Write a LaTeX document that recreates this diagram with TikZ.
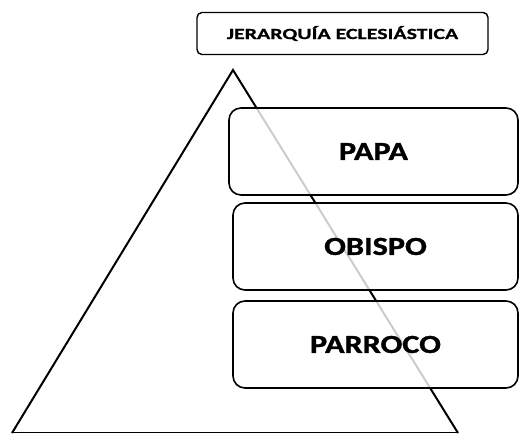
\documentclass[tikz,border=0pt]{standalone}
\usepackage{fontspec}
\setmainfont{Carlito}
\newfontfamily\rangofont[FakeStretch = 1.24, BoldFeatures = {FakeBold = 1.2}]{Carlito}
\newfontfamily\titulofont[FakeStretch = 1.41, BoldFeatures = {FakeBold = 0.8}]{Carlito}

\tikzset{
	rango/.style = {draw, line width = 1.6pt, rounded corners = 12pt, fill = white, fill opacity = 0.8, text opacity = 1, minimum width = 288pt, minimum height = 87pt, font = \rangofont\fontsize{26}{30}\selectfont\bfseries},
	titulo/.style = {draw, line width = 1.4pt, rounded corners = 5pt, fill = white, minimum width = 291pt, minimum height = 42pt, font = \titulofont\fontsize{15.5}{18}\selectfont\bfseries}
}

\begin{document}
\begin{tikzpicture}[x = 1pt, y = 1pt]
		\useasboundingbox (0, 0) rectangle (519, 435);
		\coordinate (apex) at (233, 365);
		\coordinate (bl) at (12, 2);
		\coordinate (br) at (458, 2);
		\draw[line width = 2pt] (bl) -- (apex) -- (br);
		\draw[line width = 1pt] (bl) -- (br);
		\node[titulo] (title) at (342.5, 401.5) {JERARQUÍA ECLESIÁSTICA};
		\node[rango, minimum width = 289pt] (papa) at (373.5, 283.5) {PAPA};
		\node[rango, minimum width = 285pt] (obispo) at (375.5, 188.5) {OBISPO};
		\node[rango, minimum width = 285pt] (parroco) at (375.5, 90.5) {PARROCO};
	\end{tikzpicture}
\end{document}
